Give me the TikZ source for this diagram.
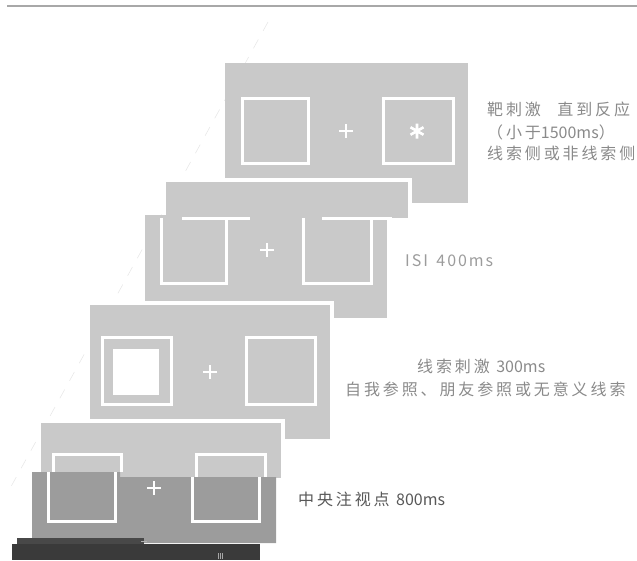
\documentclass[tikz,border=0pt]{standalone}
\usepackage{fontspec}
\newfontfamily\cjkf[LetterSpace=18]{Noto Sans CJK SC}
\newfontfamily\latf{Noto Sans CJK SC}
\newfontfamily\latsp[LetterSpace=12]{Noto Sans CJK SC}
\definecolor{panelgray}{HTML}{C9C9C9}
\definecolor{darkpanel}{HTML}{9C9C9C}
\definecolor{barA}{HTML}{484848}
\definecolor{barB}{HTML}{3A3A3A}
\definecolor{lblgray}{HTML}{8A8A8A}
\definecolor{lbldark}{HTML}{585858}
\definecolor{rulegray}{HTML}{A8A8A8}
\tikzset{
  panel/.style={fill=panelgray, draw=none},
  bpanel/.style={fill=panelgray, draw=white, line width=4pt},
  wline/.style={draw=white, line width=3pt},
  gapline/.style={draw=white, line width=4pt},
  crossline/.style={draw=white, line width=2.6pt},
  fixcross/.pic={\draw[crossline] (-7,0) -- (7,0) (0,-7) -- (0,7);},
  starmark/.pic={\draw[crossline] (0,-7.5) -- (0,7.5) (-6.5,-3.75) -- (6.5,3.75) (-6.5,3.75) -- (6.5,-3.75);},
  lbl/.style={text=lblgray, anchor=base west, inner sep=0pt, font=\cjkf\fontsize{16}{19}\selectfont},
}
\begin{document}
\begin{tikzpicture}[x=1pt,y=-1pt]
\useasboundingbox (0,0) rectangle (637,560);
% top rule
\draw[rulegray, line width=1.2pt] (7,6) -- (637,6);
% faint guide line
\draw[gray!18, line width=0.6pt, dash pattern=on 10pt off 10pt] (268,22) -- (8,492);

% ---- panel 1: target
\fill[panelgray] (225,63) rectangle (468,203);
\draw[wline] (242.5,98.5) rectangle (308.5,163.5);
\draw[wline] (383.5,98.5) rectangle (453.5,163.5);
\pic at (346,131) {fixcross};
\pic at (417,131) {starmark};

% ---- panel 2: ISI
\fill[panelgray] (166,182) rectangle (408,218);
\draw[gapline] (164,180) -- (410,180) -- (410,205);
\fill[panelgray] (145,215) rectangle (387,318);
\draw[wline] (182,218) -- (250,218);
\draw[wline] (322,218) -- (392,218);
\draw[wline] (161.5,218) -- (161.5,283.5) -- (226.5,283.5) -- (226.5,218);
\draw[wline] (303.5,218) -- (303.5,283.5) -- (371.5,283.5) -- (371.5,218);
\pic at (267,250) {fixcross};

% ---- panel 3: cue
\draw[bpanel] (88,303) rectangle (332,441);
\draw[wline] (102.5,337.5) rectangle (171.5,404.5);
\fill[white] (113,349) rectangle (159,395);
\draw[wline] (246.5,337.5) rectangle (315.5,404.5);
\pic at (210,372) {fixcross};

% ---- panel 4: fixation
\draw[bpanel] (39,421) rectangle (283,480);
\draw[wline] (53.5,472) -- (53.5,454.5) -- (121.5,454.5) -- (121.5,472);
\draw[wline] (196.5,477) -- (196.5,454.5) -- (265.5,454.5) -- (265.5,477);
\fill[darkpanel] (32,472) -- (120,472) -- (120,477) -- (276,477) -- (276,543) -- (32,543) -- cycle;
\draw[wline] (48.5,472) -- (48.5,521.5) -- (115.5,521.5) -- (115.5,472);
\draw[wline] (192.5,477) -- (192.5,521.5) -- (259.5,521.5) -- (259.5,477);
\pic at (154,488) {fixcross};

% ---- bottom dark bars
\fill[barA] (17,538) rectangle (144,560);
\fill[barB] (12,544) rectangle (260,560);
\draw[gray!60, line width=1pt] (141,541.5) -- (147,541.5);
\draw[gray!70, line width=0.6pt] (218,553) -- (218,559) (220,553) -- (220,559) (222,553) -- (222,559);

% ---- labels
\node[lbl] (t1a) at (487,115) {靶刺激\hspace{10pt} 直到反应};
\node[lbl] (t1b) at (487,138) {（小于{\latf 1500ms}）};
\node[lbl] (t1c) at (487,159) {线索侧或非线索侧};
\node[lbl, text=lblgray!85] (t2) at (405,266) {{\latsp ISI\hspace{3pt} 400ms}};
\node[lbl] (t3a) at (417,372) {线索刺激 {\latf 300ms}};
\node[lbl] (t3b) at (345,395) {自我参照、朋友参照或无意义线索};
\node[lbl, text=lbldark] (t4) at (298,505) {中央注视点 {\latf 800ms}};
\end{tikzpicture}
\end{document}
